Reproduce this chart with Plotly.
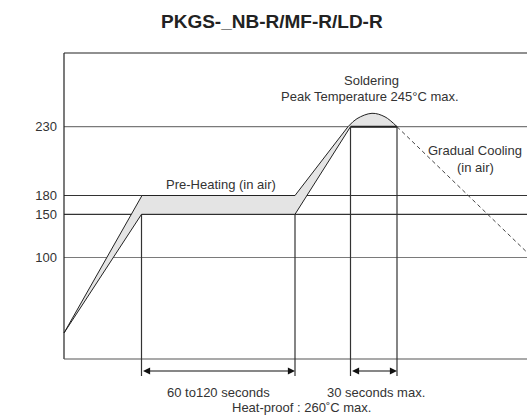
import numpy as np
import plotly.graph_objects as go

# ---- schematic (non-linear) temperature scale: temperature -> drawing height
SCALE_TEMPS = [25, 100, 150, 180, 230, 245]
SCALE_HEIGHTS = [26, 101.5, 144.7, 163.5, 232.3, 245.7]


def ypos(t):
    return np.interp(t, SCALE_TEMPS, SCALE_HEIGHTS)


# ---- data (time axis in schematic units)
TEMP_TICKS = [100, 150, 180, 230]
TICK_LABELS = ["100", "150", "180", "230"]

UPPER_TIME = [0, 78, 231, 284]
UPPER_TEMP = [25, 180, 180, 230]

ARC_TIME = [284, 293, 308, 321, 333]
ARC_TEMP = [230, 239, 245, 241, 230]

LOWER_TIME = [0, 77.5, 231, 286.5, 333]
LOWER_TEMP = [25, 150, 150, 230, 230]

COOL_TIME = [333, 463]
COOL_TEMP = [230, 106]

PHASE_BOUNDS = [77.5, 231, 286.5, 333]
PHASE_TOPS = [150, 150, 230, 230]

GRID_COLORS = {100: "#7a7a7a", 150: "#333333", 180: "#333333", 230: "#7a7a7a"}

X_MAX = 463
TOP_H = 309
BOTTOM_H = -58
LINE = "#222222"
FILL = "#e4e4e4"
TXT = "#333333"
FONT = "Liberation Sans, Arial, sans-serif"

W, H = 527, 417
ML, MR, MT, MB = 61, 0, 50, 0

fig = go.Figure()

# band (ramp + plateau + rise)
poly_x = UPPER_TIME + LOWER_TIME[::-1][1:]
poly_t = UPPER_TEMP + LOWER_TEMP[::-1][1:]
fig.add_trace(go.Scatter(x=poly_x, y=ypos(poly_t), mode="lines", fill="toself",
                         fillcolor=FILL, line=dict(width=0), hoverinfo="skip"))
# arc fill
fig.add_trace(go.Scatter(x=ARC_TIME, y=ypos(ARC_TEMP), mode="lines", fill="toself",
                         fillcolor=FILL, line=dict(width=0, shape="spline"),
                         hoverinfo="skip"))
# outlines
fig.add_trace(go.Scatter(x=UPPER_TIME, y=ypos(UPPER_TEMP), mode="lines",
                         line=dict(color=LINE, width=1)))
fig.add_trace(go.Scatter(x=ARC_TIME, y=ypos(ARC_TEMP), mode="lines",
                         line=dict(color=LINE, width=1, shape="spline")))
fig.add_trace(go.Scatter(x=LOWER_TIME[:-1], y=ypos(LOWER_TEMP[:-1]), mode="lines",
                         line=dict(color=LINE, width=1)))
fig.add_trace(go.Scatter(x=LOWER_TIME[-2:], y=ypos(LOWER_TEMP[-2:]), mode="lines",
                         line=dict(color="#222222", width=2)))
fig.add_trace(go.Scatter(x=COOL_TIME, y=ypos(COOL_TEMP), mode="lines",
                         line=dict(color="#444444", width=1, dash="4px,3px")))

shapes = []
# grid lines
for t in TEMP_TICKS:
    shapes.append(dict(type="line", xref="x", yref="y", x0=0, x1=X_MAX,
                       y0=float(ypos(t)), y1=float(ypos(t)), layer="below",
                       line=dict(color=GRID_COLORS[t], width=1.2)))
# frame (top, left, bottom)
shapes.append(dict(type="line", xref="x", yref="y", x0=0, x1=X_MAX, y0=TOP_H - 3, y1=TOP_H - 3,
                   line=dict(color="#222222", width=1.2)))
shapes.append(dict(type="line", xref="x", yref="y", x0=0, x1=0, y0=0, y1=TOP_H - 3,
                   line=dict(color="#222222", width=1.2)))
shapes.append(dict(type="line", xref="x", yref="y", x0=0, x1=X_MAX, y0=0, y1=0,
                   line=dict(color="#555555", width=1.2)))
# phase boundaries
for xb, tb in zip(PHASE_BOUNDS, PHASE_TOPS):
    shapes.append(dict(type="line", xref="x", yref="y", x0=xb, x1=xb,
                       y0=-17, y1=float(ypos(tb)),
                       line=dict(color="#333333", width=1.2)))

annotations = []
# duration arrows
for a, b in [(PHASE_BOUNDS[0], PHASE_BOUNDS[1]), (PHASE_BOUNDS[2], PHASE_BOUNDS[3])]:
    annotations.append(dict(x=b, y=-12, ax=a, ay=-12, xref="x", yref="y",
                            axref="x", ayref="y", text="", showarrow=True,
                            arrowhead=2, startarrowhead=2, arrowside="end+start",
                            arrowsize=1.3, startarrowsize=1.3, arrowwidth=1.1,
                            arrowcolor="#111111", standoff=0, startstandoff=0))


def label(text, x, y, size=13, **kw):
    d = dict(text=text, x=x, y=y, xref="x", yref="y", showarrow=False,
             font=dict(family=FONT, size=size, color=TXT),
             xanchor="center", yanchor="middle")
    d.update(kw)
    annotations.append(d)


label("Pre-Heating (in air)", 157, 175)
label("Soldering", 307, 279)
label("Peak Temperature 245°C max.", 306, 262.5)
label("Gradual Cooling", 411, 208.5)
label("(in air)", 411, 191.5)
label("60 to120 seconds", (PHASE_BOUNDS[0] + PHASE_BOUNDS[1]) / 2, -33.5)
label("30 seconds max.", 312, -33.5)
label("Heat-proof : 260˚C max.", 237.5, -48.5)
label("Temperature (°C)", -47, 146, textangle=-90)

plot_w, plot_h = W - ML - MR, H - MT - MB
annotations.append(dict(text="<b>PKGS-_NB-R/MF-R/LD-R</b>",
                        x=(271.5 - ML) / plot_w, y=(H - MB - 21.5) / plot_h,
                        xref="paper", yref="paper", showarrow=False,
                        font=dict(family=FONT, size=19, color="#222222"),
                        xanchor="center", yanchor="middle"))

fig.update_layout(
    width=W, height=H,
    margin=dict(l=ML, r=MR, t=MT, b=MB, pad=0),
    paper_bgcolor="white", plot_bgcolor="white",
    showlegend=False,
    shapes=shapes, annotations=annotations,
    xaxis=dict(range=[-3, X_MAX], visible=False, fixedrange=True),
    yaxis=dict(range=[BOTTOM_H, TOP_H], showgrid=False, zeroline=False, showline=False,
               ticks="", tickvals=[float(v) for v in ypos(TEMP_TICKS)],
               ticktext=TICK_LABELS, ticklabelstandoff=3,
               tickfont=dict(family=FONT, size=13, color=TXT), fixedrange=True),
)

fig.write_html("out.html", config={"displayModeBar": False},
               post_script="document.body.style.margin='0';"
                           "document.body.style.overflow='hidden';")
